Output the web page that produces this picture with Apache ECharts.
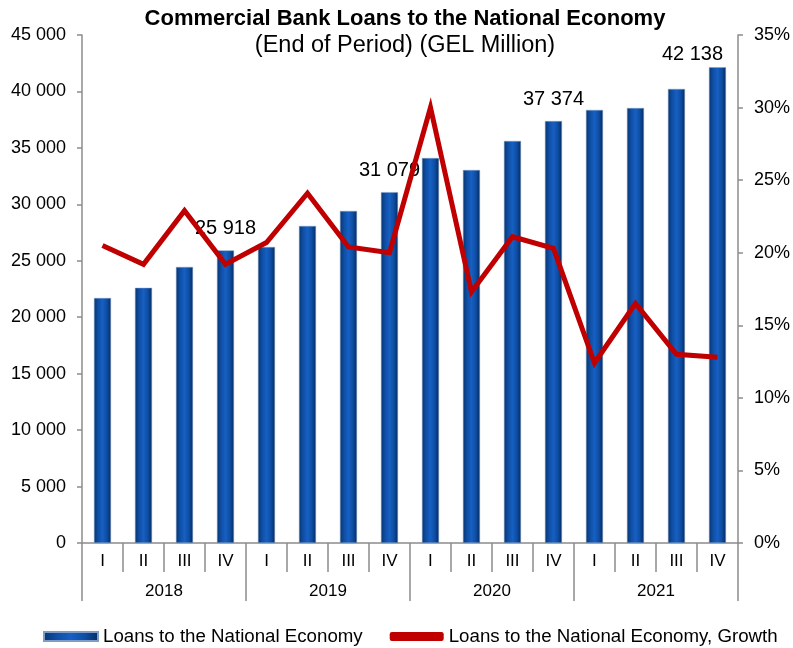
<!DOCTYPE html>
<html>
<head>
<meta charset="utf-8">
<script src="https://cdn.jsdelivr.net/npm/echarts@6/dist/echarts.min.js"></script>
<style>html,body{margin:0;padding:0;background:#fff}#c{width:793px;height:648px}</style>
</head>
<body>
<div id="c"></div>
<script>
const quarters = ['I','II','III','IV','I','II','III','IV','I','II','III','IV','I','II','III','IV'];
const years = ['2018','2019','2020','2021'];
const loans = [21700, 22600, 24450, 25918, 26220, 28080, 29410, 31079, 34100, 33040, 35610, 37374, 38360, 38530, 40220, 42138];
const growth = [20.5, 19.2, 22.9, 19.2, 20.7, 24.1, 20.4, 20.0, 30.0, 17.3, 21.1, 20.3, 12.4, 16.5, 13.0, 12.8];
const leftTicks = [0, 45000, 5000];
const rightTicks = [0, 35, 5];

const fmt = v => String(v).replace(/\B(?=(\d{3})+(?!\d))/g, ' ');
const FONT = 'Liberation Sans';
const barGrad = new echarts.graphic.LinearGradient(0, 0, 1, 0, [
  {offset: 0, color: '#08356f'},
  {offset: 0.25, color: '#0f4fa6'},
  {offset: 0.5, color: '#175fc2'},
  {offset: 0.75, color: '#0e4ea4'},
  {offset: 1, color: '#062c62'}
]);
const labelOffsets = {3: [0, 0], 7: [0, 0], 11: [0, 0], 15: [-25, 9]};
const barData = loans.map((v, i) => {
  const item = {value: v};
  if (labelOffsets[i]) {
    item.label = {show: true, position: 'top', distance: 12, offset: labelOffsets[i],
      formatter: p => fmt(p.value), color: '#000', fontSize: 20, fontFamily: FONT};
  }
  return item;
});

const chart = echarts.init(document.getElementById('c'), null, {renderer: 'canvas'});
chart.setOption({
  animation: false,
  textStyle: {fontFamily: FONT},
  title: {
    text: 'Commercial Bank Loans to the National Economy',
    subtext: '(End of Period) (GEL Million)',
    left: 400, textAlign: 'center', top: 3, itemGap: 4,
    textStyle: {fontFamily: FONT, fontWeight: 'bold', fontSize: 22, color: '#000'},
    subtextStyle: {fontFamily: FONT, fontSize: 23.5, color: '#000'}
  },
  legend: {
    top: 622, left: 38, itemGap: 27, itemWidth: 54, itemHeight: 9,
    textStyle: {fontFamily: FONT, fontSize: 18.7, color: '#000'},
    data: [
      {name: 'Loans to the National Economy', icon: 'rect'},
      {name: 'Loans to the National Economy, Growth', icon: 'roundRect'}
    ]
  },
  grid: {left: 82, right: 55, top: 35, bottom: 105},
  xAxis: [
    {type: 'category', data: quarters, position: 'bottom',
      axisLine: {lineStyle: {color: '#8c8c8c', width: 1.5}},
      axisTick: {show: true, interval: 0, length: 29, lineStyle: {color: '#8c8c8c', width: 1.5}},
      axisLabel: {interval: 0, margin: 10, fontSize: 17, color: '#000', fontFamily: FONT}},
    {type: 'category', data: years, position: 'bottom',
      axisLine: {show: false},
      axisTick: {show: true, interval: 0, length: 58, lineStyle: {color: '#8c8c8c', width: 1.5}},
      axisLabel: {interval: 0, margin: 40, fontSize: 17, color: '#000', fontFamily: FONT}}
  ],
  yAxis: [
    {type: 'value', min: leftTicks[0], max: leftTicks[1], interval: leftTicks[2],
      splitLine: {show: false},
      axisLine: {show: true, lineStyle: {color: '#8c8c8c', width: 1.5}},
      axisTick: {show: true, length: 5, lineStyle: {color: '#8c8c8c', width: 1.5}},
      axisLabel: {formatter: v => fmt(v), fontSize: 18, color: '#000', margin: 16, fontFamily: FONT}},
    {type: 'value', min: rightTicks[0], max: rightTicks[1], interval: rightTicks[2],
      splitLine: {show: false},
      axisLine: {show: true, lineStyle: {color: '#8c8c8c', width: 1.5}},
      axisTick: {show: true, length: 5, lineStyle: {color: '#8c8c8c', width: 1.5}},
      axisLabel: {formatter: v => v + '%', fontSize: 18, color: '#000', margin: 16, fontFamily: FONT}}
  ],
  series: [
    {name: 'Loans to the National Economy', type: 'bar', xAxisIndex: 0, yAxisIndex: 0,
      barWidth: 17, data: barData,
      itemStyle: {color: barGrad, borderColor: '#7f9cc4', borderWidth: 0.5}},
    {name: 'Loans to the National Economy, Growth', type: 'line', xAxisIndex: 0, yAxisIndex: 1,
      data: growth, symbol: 'none', z: 5,
      lineStyle: {color: '#c00000', width: 5, join: 'miter'},
      itemStyle: {color: '#c00000'}}
  ]
});
</script>
</body>
</html>
